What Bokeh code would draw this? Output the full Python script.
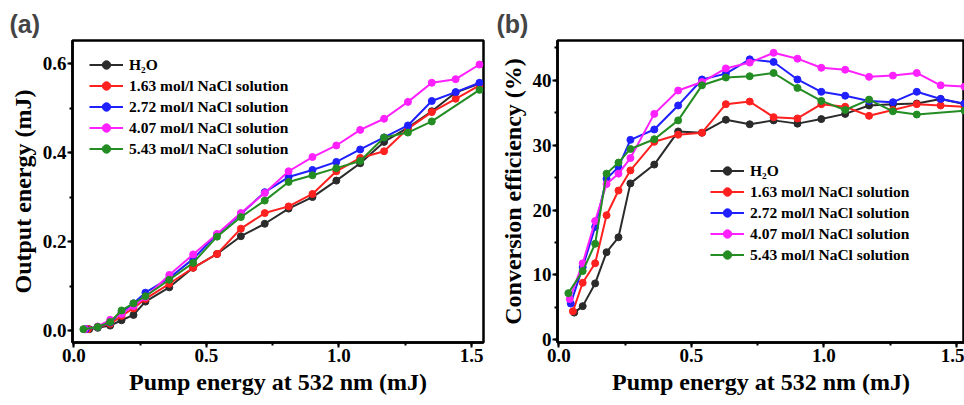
from bokeh.plotting import figure
from bokeh.models import (Legend, LegendItem, SingleIntervalTicker,
                          NumeralTickFormatter, Range1d)
from bokeh.layouts import row
from bokeh.embed import file_html
from bokeh.resources import INLINE

# ---------------- data ----------------
pump_steps = [0.09, 0.137, 0.18, 0.225, 0.27, 0.36, 0.45, 0.54, 0.63, 0.72,
              0.81, 0.90, 0.99, 1.08, 1.17, 1.26, 1.35, 1.44, 1.53]
pump_h2o = [0.058] + pump_steps
pump_163 = [0.053] + pump_steps
pump_272 = [0.045] + pump_steps
pump_407 = [0.041] + pump_steps
pump_543 = [0.036] + [v for v in pump_steps if v != 1.44]

out_h2o = [0.003, 0.006, 0.011, 0.023, 0.035, 0.065, 0.097, 0.141, 0.172, 0.212,
           0.240, 0.274, 0.300, 0.337, 0.376, 0.424, 0.456, 0.493, 0.535, 0.555]
out_163 = [0.003, 0.008, 0.015, 0.033, 0.050, 0.071, 0.105, 0.141, 0.172, 0.229,
           0.264, 0.279, 0.307, 0.358, 0.388, 0.403, 0.454, 0.491, 0.521, 0.551]
out_272 = [0.003, 0.008, 0.018, 0.041, 0.061, 0.085, 0.118, 0.161, 0.216, 0.262,
           0.311, 0.345, 0.361, 0.379, 0.407, 0.434, 0.461, 0.516, 0.536, 0.557]
out_407 = [0.003, 0.009, 0.024, 0.037, 0.055, 0.075, 0.125, 0.171, 0.217, 0.264,
           0.309, 0.358, 0.390, 0.416, 0.451, 0.476, 0.514, 0.557, 0.565, 0.598]
out_543 = [0.003, 0.008, 0.019, 0.045, 0.061, 0.077, 0.114, 0.152, 0.211, 0.255,
           0.292, 0.334, 0.349, 0.365, 0.381, 0.434, 0.445, 0.470, 0.541]

eff_h2o = [4.2, 5.2, 8.7, 13.5, 15.8, 24.1, 27.0, 32.1, 31.9, 33.9,
           33.2, 33.8, 33.3, 34.0, 34.8, 36.1, 36.3, 36.4, 37.1, 36.3]
eff_163 = [4.4, 8.8, 11.8, 19.2, 23.0, 26.1, 30.5, 31.6, 31.9, 36.3,
           36.7, 34.3, 34.1, 36.3, 35.9, 34.5, 35.4, 36.3, 36.1, 35.9]
eff_272 = [5.6, 11.2, 17.4, 24.8, 26.6, 30.8, 32.4, 36.1, 40.1, 41.0,
           43.2, 42.8, 40.1, 38.2, 37.6, 36.8, 36.6, 38.2, 37.1, 36.4]
eff_407 = [6.3, 11.8, 18.3, 24.0, 25.6, 28.0, 34.8, 38.4, 39.7, 41.8,
           42.7, 44.2, 43.3, 41.9, 41.6, 40.5, 40.7, 41.1, 39.2, 39.0]
eff_543 = [7.2, 10.6, 14.8, 25.6, 27.3, 29.4, 30.9, 33.8, 39.2, 40.4,
           40.6, 41.1, 38.8, 36.8, 35.4, 37.0, 35.2, 34.7, 35.3]

series_labels = ["H\u2082O", "1.63 mol/l NaCl solution", "2.72 mol/l NaCl solution",
                 "4.07 mol/l NaCl solution", "5.43 mol/l NaCl solution"]
series_colors = ["#2b2b2b", "#ff2020", "#2020ff", "#ff20ff", "#238c23"]
pumps = [pump_h2o, pump_163, pump_272, pump_407, pump_543]
outputs = [out_h2o, out_163, out_272, out_407, out_543]
effs = [eff_h2o, eff_163, eff_272, eff_407, eff_543]

x_title = "Pump energy at 532 nm (mJ)"
SERIF = "Liberation Serif"
SANS = "Liberation Sans"


def style(p, ylabel, y_interval, y_format, y_minor):
    p.outline_line_color = "black"
    p.outline_line_width = 2.5
    p.outline_line_alpha = 1
    p.xgrid.visible = False
    p.ygrid.visible = False
    p.background_fill_color = "white"
    p.border_fill_color = "white"
    p.xaxis.ticker = SingleIntervalTicker(interval=0.5, num_minor_ticks=2)
    p.xaxis.formatter = NumeralTickFormatter(format="0.0")
    p.yaxis.ticker = SingleIntervalTicker(interval=y_interval, num_minor_ticks=y_minor)
    p.yaxis.formatter = NumeralTickFormatter(format=y_format)
    p.xaxis.axis_label = x_title
    p.yaxis.axis_label = ylabel
    for ax in (p.xaxis[0], p.yaxis[0]):
        ax.axis_line_width = 2.5
        ax.axis_line_color = "black"
        ax.major_tick_line_width = 2
        ax.minor_tick_line_width = 2
        ax.major_tick_in = 0
        ax.major_tick_out = 5
        ax.minor_tick_in = 0
        ax.minor_tick_out = 3
        ax.major_label_text_font = SERIF
        ax.major_label_text_font_style = "bold"
        ax.major_label_text_font_size = "19px"
        ax.major_label_text_color = "black"
        ax.major_label_standoff = 1
        ax.axis_label_text_font = SERIF
        ax.axis_label_text_font_style = "bold"
        ax.axis_label_text_font_size = "24px"
        ax.axis_label_text_color = "black"
        ax.axis_label_standoff = 4
    p.title.text_font = SANS
    p.title.text_font_style = "bold"
    p.title.text_font_size = "25px"
    p.title.align = "left"
    p.title.standoff = 5


def add_series(p, xs_list, ys_list, loc):
    items = []
    for xs, ys, lab, col in zip(xs_list, ys_list, series_labels, series_colors):
        ln = p.line(xs, ys, line_color=col, line_width=2)
        sc = p.scatter(xs, ys, marker="circle", size=7, fill_color=col,
                       line_color=col)
        items.append(LegendItem(label=lab, renderers=[ln, sc]))
    lg = Legend(items=items, location=loc)
    lg.label_text_font = SERIF
    lg.label_text_font_style = "bold"
    lg.label_text_font_size = "15.5px"
    lg.label_text_color = "black"
    lg.glyph_width = 34
    lg.glyph_height = 21
    lg.label_height = 21
    lg.label_standoff = 6
    lg.spacing = 0
    lg.padding = 0
    lg.margin = 0
    lg.border_line_alpha = 0
    lg.background_fill_alpha = 0
    p.add_layout(lg, "center")


H = 405
p1 = figure(width=488, height=H, output_backend="svg", toolbar_location=None,
            x_range=Range1d(-0.005, 1.545), y_range=Range1d(-0.027, 0.652),
            min_border_left=72, min_border_right=5, min_border_top=40,
            min_border_bottom=63, title="(a)")
style(p1, "Output energy (mJ)", 0.2, "0.0", 2)
p1.title.offset = -63
add_series(p1, pumps, outputs, (17, 183))

p2 = figure(width=476, height=H, output_backend="svg", toolbar_location=None,
            x_range=Range1d(-0.005, 1.53), y_range=Range1d(-0.4, 46.1),
            min_border_left=69, min_border_right=0, min_border_top=40,
            min_border_bottom=63, title="(b)")
style(p2, "Conversion efficiency (%)", 10, "0", 2)
p2.title.offset = -61
add_series(p2, pumps, effs, (153, 77))

layout = row(p1, p2)
open("out.html", "w").write(file_html(layout, INLINE))
